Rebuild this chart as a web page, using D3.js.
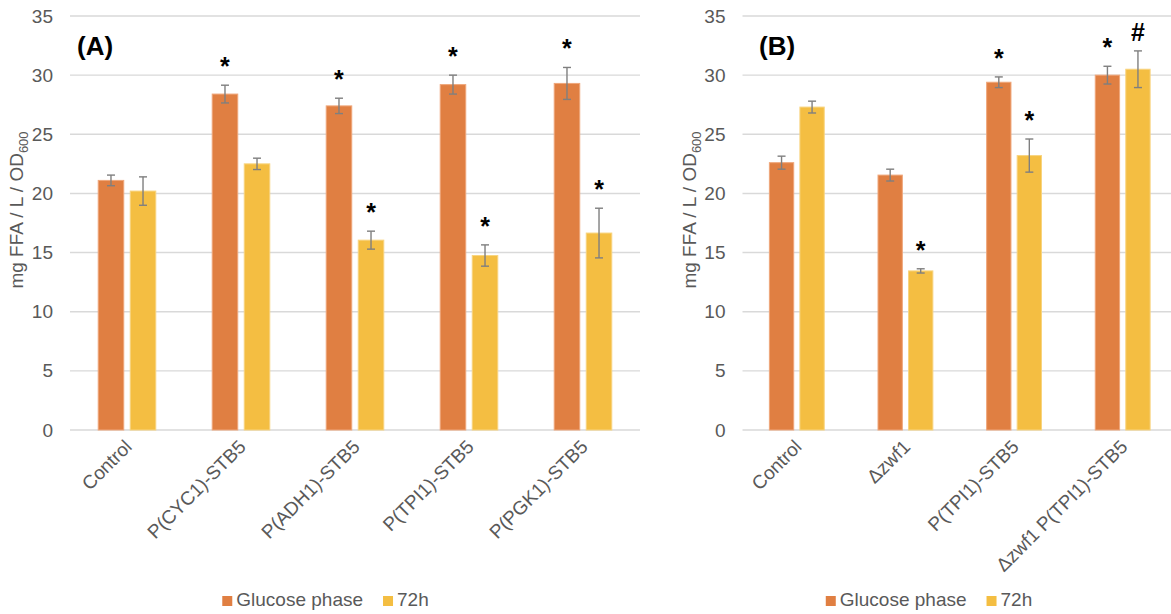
<!DOCTYPE html>
<html><head><meta charset="utf-8">
<script src="https://cdn.jsdelivr.net/npm/d3@7"></script>
<style>
html,body{margin:0;padding:0;background:#fff;}
svg{display:block;font-family:"Liberation Sans",Arial,sans-serif;}
</style></head>
<body>
<svg id="chart" width="1171" height="614"></svg>
<script>
// ---------- DATA ----------
const seriesNames = ["Glucose phase", "72h"];
const yTicks = [0, 5, 10, 15, 20, 25, 30, 35];

const catsA = ["Control", "P(CYC1)-STB5", "P(ADH1)-STB5", "P(TPI1)-STB5", "P(PGK1)-STB5"];
const glucoseA = [21.1, 28.4, 27.4, 29.2, 29.3];
const glucoseErrA = [0.45, 0.75, 0.65, 0.8, 1.35];
const h72A = [20.2, 22.5, 16.05, 14.75, 16.65];
const h72ErrA = [1.2, 0.48, 0.76, 0.9, 2.1];
const glucoseSigA = ["", "*", "*", "*", "*"];
const h72SigA = ["", "", "*", "*", "*"];

const catsB = ["Control", "\u0394zwf1", "P(TPI1)-STB5", "\u0394zwf1 P(TPI1)-STB5"];
const glucoseB = [22.6, 21.55, 29.4, 30.0];
const glucoseErrB = [0.55, 0.5, 0.45, 0.75];
const h72B = [27.3, 13.45, 23.2, 30.5];
const h72ErrB = [0.5, 0.18, 1.4, 1.55];
const glucoseSigB = ["", "", "*", "*"];
const h72SigB = ["", "*", "*", "#"];

// ---------- STYLE ----------
const colors = ["#E07F42", "#F4BE42"];
const strokes = ["#EFA67A", "#F8D47F"];
const textGray = "#595959";
const gridGray = "#D9D9D9";

const svg = d3.select("#chart");

function panel(opts) {
  const {cats, vals, errs, sigs, x0, x1, label, labelX, legendCenter} = opts;
  const g = svg.append("g");
  const y = d3.scaleLinear().domain([0, 35]).range([430, 16]);
  const x = d3.scaleBand().domain(cats).range([x0, x1]).paddingInner(0).paddingOuter(0);
  const band = x.bandwidth();
  const groupW = band * 0.505;
  const xs = d3.scaleBand().domain([0, 1]).range([-groupW / 2, groupW / 2]).paddingInner(0.203).paddingOuter(0);

  // gridlines
  g.append("g").selectAll("line").data(yTicks).join("line")
    .attr("x1", x0).attr("x2", x1)
    .attr("y1", d => y(d)).attr("y2", d => y(d))
    .attr("stroke", gridGray).attr("stroke-width", 1.4);

  // y axis labels via d3 axis
  const yAxis = d3.axisLeft(y).tickValues(yTicks).tickSize(0).tickPadding(17).tickFormat(d3.format("d"));
  const ya = g.append("g").attr("transform", `translate(${x0},0)`).call(yAxis);
  ya.select(".domain").remove();
  ya.selectAll("text").attr("fill", textGray).style("font-size", "19px").style("font-family", "Liberation Sans, Arial, sans-serif");

  // y title
  const t = g.append("text")
    .attr("transform", `translate(${x0 - 47},210) rotate(-90)`)
    .attr("text-anchor", "middle").attr("fill", textGray).style("font-size", "19px");
  t.append("tspan").text("mg FFA / L / OD");
  t.append("tspan").text("600").style("font-size", "13px").attr("dy", "5");

  // bars
  const rows = cats.map((c, i) => ({c, i}));
  [0, 1].forEach(s => {
    const gs = g.append("g");
    gs.selectAll("rect").data(rows).join("rect")
      .attr("x", d => x(d.c) + band / 2 + xs(s))
      .attr("width", xs.bandwidth())
      .attr("y", d => y(vals[s][d.i]))
      .attr("height", d => y(0) - y(vals[s][d.i]))
      .attr("fill", colors[s]).attr("stroke", strokes[s]).attr("stroke-width", 1);
    // error bars
    const eb = gs.append("g").attr("stroke", "#7F7F7F").attr("stroke-width", 1.4).attr("fill", "none");
    rows.forEach(d => {
      const cx = x(d.c) + band / 2 + xs(s) + xs.bandwidth() / 2;
      const v = vals[s][d.i], e = errs[s][d.i];
      eb.append("line").attr("x1", cx).attr("x2", cx).attr("y1", y(v + e)).attr("y2", y(v - e));
      eb.append("line").attr("x1", cx - 4).attr("x2", cx + 4).attr("y1", y(v + e)).attr("y2", y(v + e));
      eb.append("line").attr("x1", cx - 4).attr("x2", cx + 4).attr("y1", y(v - e)).attr("y2", y(v - e));
    });
    // significance marks
    gs.selectAll("text.sig").data(rows.filter(d => sigs[s][d.i] !== "")).join("text")
      .attr("class", "sig")
      .attr("x", d => x(d.c) + band / 2 + xs(s) + xs.bandwidth() / 2)
      .attr("y", d => y(vals[s][d.i] + errs[s][d.i]) - (sigs[s][d.i] === "#" ? 10 : 10))
      .attr("text-anchor", "middle").attr("fill", "#000")
      .style("font-size", "25px").style("font-weight", "bold")
      .text(d => sigs[s][d.i]);
  });

  // x axis labels
  g.append("g").selectAll("text").data(cats).join("text")
    .attr("transform", d => `translate(${x(d) + band / 2 + 6},${y(0) + 18}) rotate(-45)`)
    .attr("text-anchor", "end").attr("fill", textGray).style("font-size", "19px")
    .text(d => d);

  // panel label
  g.append("text").attr("x", labelX).attr("y", 55)
    .style("font-size", "26px").style("font-weight", "bold").attr("fill", "#000").text(label);

  // legend
  const lg = g.append("g");
  let cx = 0;
  seriesNames.forEach((n, i) => {
    const it = lg.append("g").attr("transform", `translate(${cx},0)`);
    it.append("rect").attr("x", 0).attr("y", -10).attr("width", 10).attr("height", 10).attr("fill", colors[i]);
    const tx = it.append("text").attr("x", 14).attr("y", 0).attr("fill", textGray).style("font-size", "19px").text(n);
    const w = tx.node().getComputedTextLength();
    cx += 14 + w + 20;
  });
  const total = cx - 20;
  lg.attr("transform", `translate(${legendCenter - total / 2},606)`);
}

panel({cats: catsA, vals: [glucoseA, h72A], errs: [glucoseErrA, h72ErrA], sigs: [glucoseSigA, h72SigA],
  x0: 70, x1: 640, label: "(A)", labelX: 77, legendCenter: 325.5});
panel({cats: catsB, vals: [glucoseB, h72B], errs: [glucoseErrB, h72ErrB], sigs: [glucoseSigB, h72SigB],
  x0: 742.5, x1: 1177, label: "(B)", labelX: 759, legendCenter: 929});
</script>
</body></html>
